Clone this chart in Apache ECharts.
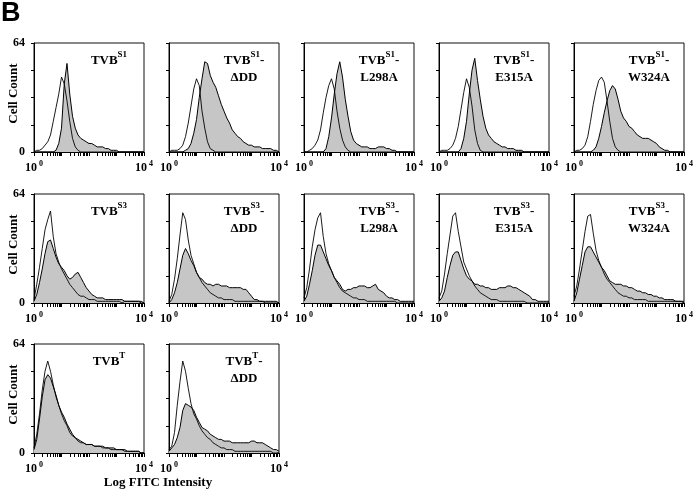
<!DOCTYPE html>
<html><head><meta charset="utf-8">
<script src="https://cdn.jsdelivr.net/npm/echarts@6/dist/echarts.min.js"></script>
<style>html,body{margin:0;padding:0;background:#fff}#c{width:698px;height:495px}</style>
</head><body><div id="c"></div>
<script>
// bin centres on the log10(FITC intensity) scale, 10^0 .. 10^4
const logBins = [0,0.1,0.2,0.3,0.4,0.5,0.6,0.7,0.8,0.9,1.0,1.1,1.2,1.3,1.4,1.5,1.6,1.7,1.8,1.9,2.0,2.1,2.2,2.3,2.4,2.5,2.6,2.7,2.8,2.9,3.0,3.1,3.2,3.3,3.4,3.5,3.6,3.7,3.8,3.9,4.0];
const yLabelValues = [0, 64];

const panelSup   = ['S1','S1','S1','S1','S1','S3','S3','S3','S3','S3','T','T'];
const panelLine2 = ['','\u0394DD','L298A','E315A','W324A','','\u0394DD','L298A','E315A','W324A','','\u0394DD'];

// open histograms (control)
const open1  = [0,1,1,2,4,6,10,18,26,34, 44,40,30,18,8,3,1,0,0,0, 0,0,0,0,0,0,0,0,0,0, 0,0,0,0,0,0,0,0,0,0, 0];
const open2  = [0,1,1,1,2,4,9,17,27,37, 43,39,24,14,6,2,1,0,0,0, 0,0,0,0,0,0,0,0,0,0, 0,0,0,0,0,0,0,0,0,0, 0];
const open3  = [0,0,1,2,4,7,13,23,32,39, 43,37,24,14,7,3,1,0,0,0, 0,0,0,0,0,0,0,0,0,0, 0,0,0,0,0,0,0,0,0,0, 0];
const open4  = [0,1,1,1,2,4,8,15,25,35, 43,38,27,13,5,1,0,0,0,0, 0,0,0,0,0,0,0,0,0,0, 0,0,0,0,0,0,0,0,0,0, 0];
const open5  = [0,1,1,2,4,9,18,28,36,42, 44,41,30,18,8,3,1,0,0,0, 0,0,0,0,0,0,0,0,0,0, 0,0,0,0,0,0,0,0,0,0, 0];
const open6  = [2,11,21,32,43,49,54,39,29,24, 20,17,14,11,9,7,5,4,4,3, 2,2,2,1,1,1,1,1,1,1, 1,1,0,1,1,1,1,1,1,0, 0];
const open7  = [1,5,14,26,40,53,49,37,28,23, 18,15,12,10,8,6,5,4,3,3, 2,2,2,2,1,1,1,1,1,1, 1,1,1,1,1,0,0,0,0,0, 0];
const open8  = [3,9,20,33,43,50,53,39,29,23, 19,15,12,9,7,6,5,4,3,3, 2,2,2,1,1,1,1,1,1,1, 1,1,1,1,0,0,0,0,0,0, 0];
const open9  = [3,7,17,29,40,51,53,42,33,24, 20,16,13,10,8,6,5,4,3,2, 2,2,1,1,1,1,1,1,1,1, 1,1,0,0,0,0,0,0,0,0, 0];
const open10 = [4,10,20,31,42,51,52,41,31,25, 21,17,14,12,10,8,6,5,4,4, 3,3,2,2,2,2,2,1,1,1, 1,1,1,1,1,1,1,1,1,1, 0];
const open11 = [3,11,23,37,48,54,48,40,33,28, 23,19,16,12,10,9,7,6,6,5, 5,5,4,4,4,3,3,3,2,2, 2,2,2,1,1,1,1,1,1,0, 0];
const open12 = [2,4,12,28,42,54,48,38,29,23, 20,16,13,11,9,8,6,5,4,3, 3,2,2,2,1,1,1,1,1,1, 1,1,1,1,1,1,1,1,0,0, 0];

// filled histograms (sample)
const fill1  = [0,0,0,0,0,0,0,0,1,5, 14,40,52,34,21,14,10,8,7,6, 5,5,4,3,3,3,2,2,1,1, 1,0,0,0,0,0,0,0,0,0, 0];
const fill2  = [0,0,0,0,0,0,1,2,5,11, 19,32,43,53,52,45,41,38,33,28, 24,20,17,13,11,9,8,6,5,4, 4,3,3,3,2,2,2,2,1,1, 0];
const fill3  = [0,0,0,0,0,0,0,0,2,9, 20,34,46,53,44,31,21,12,7,5, 4,3,3,3,2,2,2,3,3,3, 2,2,1,1,0,0,0,0,0,0, 0];
const fill4  = [0,0,0,0,0,0,0,0,2,8, 18,34,48,55,42,31,21,14,10,8, 6,5,4,3,3,2,2,2,1,1, 1,0,0,0,0,0,0,0,0,0, 0];
const fill5  = [0,0,0,0,0,0,0,1,3,8, 15,23,30,36,39,37,31,24,20,18, 15,14,12,10,9,8,8,8,7,6, 5,3,2,1,1,0,0,0,0,0, 0];
const fill6  = [1,5,12,20,29,36,37,32,27,23, 21,19,16,14,15,17,18,15,12,9, 7,5,4,3,3,3,2,2,2,2, 2,2,2,1,1,1,1,1,1,1, 0];
const fill7  = [0,2,6,12,20,28,32,29,25,22, 18,15,14,12,11,11,10,11,11,10, 10,10,9,9,9,9,9,8,8,6, 4,2,2,1,1,1,1,1,1,1, 0];
const fill8  = [1,4,11,19,28,34,34,30,26,22, 19,15,13,11,8,7,8,8,9,9, 10,10,10,9,9,10,11,8,7,6, 4,3,3,2,2,1,1,1,1,1, 1];
const fill9  = [1,3,7,15,22,28,30,30,25,20, 16,14,13,11,11,10,10,9,9,8, 8,8,9,9,9,10,10,9,9,8, 7,6,5,4,2,2,1,1,1,1, 1];
const fill10 = [1,6,14,22,30,33,33,30,27,24, 21,19,16,13,12,11,11,11,10,10, 9,9,8,7,7,6,6,5,5,4, 4,3,3,2,2,2,2,1,1,1, 1];
const fill11 = [2,8,20,33,43,46,44,39,34,28, 24,21,17,14,11,9,8,7,6,5, 5,5,4,4,4,4,3,3,3,3, 2,2,2,2,1,1,1,1,1,0, 0];
const fill12 = [1,3,5,9,15,25,29,28,27,25, 21,18,15,14,13,11,10,9,8,8, 7,7,7,6,6,6,6,6,6,6, 7,7,6,6,6,5,4,3,2,2, 1];

const openSets = [open1,open2,open3,open4,open5,open6,open7,open8,open9,open10,open11,open12];
const fillSets = [fill1,fill2,fill3,fill4,fill5,fill6,fill7,fill8,fill9,fill10,fill11,fill12];

const SERIF = '"Liberation Serif", "Times New Roman", serif';
const colLeft = [34, 169, 304, 439, 574];
const rowTop = [43, 194, 344];
const PW = 110, PH = 109;

// log-distributed tick positions (axis decoration): 1..9 x 10^d
const tickVals = [];
for (let d = 0; d < 4; d++) for (let k = 1; k < 10; k++) tickVals.push(d + Math.log10(k));
tickVals.push(4);

const chart = echarts.init(document.getElementById('c'), null, {renderer: 'canvas'});
const grid = [], xAxis = [], yAxis = [], series = [], graphic = [];

openSets.forEach((op, i) => {
  const r = Math.floor(i / 5), c = i % 5;
  const left = colLeft[c], top = rowTop[r];
  grid.push({left, top, width: PW, height: PH, show: true, borderColor: '#111', borderWidth: 1});
  xAxis.push({
    gridIndex: i, type: 'value', min: 0, max: 4, interval: 4,
    axisLine: {show: true, lineStyle: {color: '#000', width: 1}},
    axisTick: {show: true, inside: false, length: 4, customValues: tickVals, lineStyle: {color: '#000', width: 1}},
    splitLine: {show: false},
    axisLabel: {
      show: true, margin: 8,
      formatter: v => '{b|10}{s|' + Math.round(v) + '}',
      rich: {
        b: {fontFamily: SERIF, fontWeight: 'bold', fontSize: 12, color: '#000', verticalAlign: 'bottom', lineHeight: 14},
        s: {fontFamily: SERIF, fontWeight: 'bold', fontSize: 8, color: '#000', verticalAlign: 'top', lineHeight: 14, padding: [0,0,0,2]}
      }
    }
  });
  yAxis.push({
    gridIndex: i, type: 'value', min: 0, max: 64, interval: 16,
    axisLine: {show: true, lineStyle: {color: '#000', width: 1}},
    axisTick: {show: true, inside: false, length: 3, lineStyle: {color: '#000', width: 1}},
    splitLine: {show: false},
    axisLabel: {show: c === 0, margin: 9,
      formatter: v => (yLabelValues.indexOf(v) >= 0 ? String(v) : ''),
      fontFamily: SERIF, fontWeight: 'bold', fontSize: 12, color: '#000'}
  });
  series.push({
    type: 'line', xAxisIndex: i, yAxisIndex: i, showSymbol: false, symbol: 'none',
    data: logBins.map((b, j) => [b, fillSets[i][j]]),
    lineStyle: {color: '#000', width: 1}, areaStyle: {color: '#c6c6c6', opacity: 1},
    z: 2, animation: false, silent: true
  });
  series.push({
    type: 'line', xAxisIndex: i, yAxisIndex: i, showSymbol: false, symbol: 'none',
    data: logBins.map((b, j) => [b, op[j]]),
    lineStyle: {color: '#000', width: 0.9},
    z: 3, animation: false, silent: true
  });
  const suffix = panelLine2[i] ? '-' : '';
  let txt = '{m|TVB}{s|' + panelSup[i] + '}{m|' + suffix + '}';
  if (panelLine2[i]) txt += '\n{m|' + panelLine2[i] + '}';
  graphic.push({
    type: 'text', x: left + 75, y: top + 7, z: 10,
    style: {
      text: txt, align: 'center', verticalAlign: 'top',
      rich: {
        m: {fontFamily: SERIF, fontWeight: 'bold', fontSize: 13, color: '#000', lineHeight: 17, verticalAlign: 'bottom'},
        s: {fontFamily: SERIF, fontWeight: 'bold', fontSize: 9, color: '#000', lineHeight: 17, verticalAlign: 'top'}
      }
    }
  });
  if (c === 0) {
    graphic.push({
      type: 'text', x: 14, y: top + PH / 2 - 4, rotation: Math.PI / 2, z: 10,
      style: {text: 'Cell Count', fontFamily: SERIF, fontWeight: 'bold', fontSize: 13, fill: '#000',
        align: 'center', verticalAlign: 'middle'}
    });
  }
});

graphic.push({type: 'text', x: 1, y: 0, style: {text: 'B', fontFamily: '"Liberation Sans", Arial, sans-serif',
  fontWeight: 'bold', fontSize: 27, fill: '#000', align: 'left', verticalAlign: 'top'}});
graphic.push({type: 'text', x: 158, y: 476, style: {text: 'Log FITC Intensity', fontFamily: SERIF,
  fontWeight: 'bold', fontSize: 13, fill: '#000', align: 'center', verticalAlign: 'top'}});

chart.setOption({animation: false, backgroundColor: '#fff', grid, xAxis, yAxis, series, graphic});
</script>
</body></html>
